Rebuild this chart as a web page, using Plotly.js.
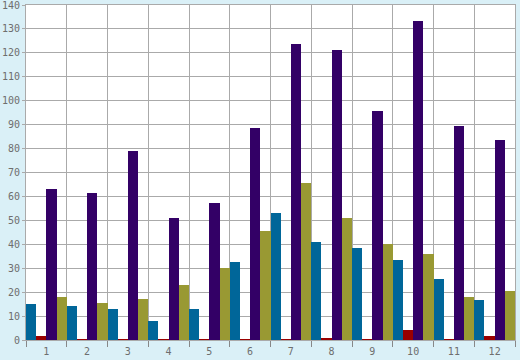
<!DOCTYPE html>
<html>
<head>
<meta charset="utf-8">
<script src="https://cdn.plot.ly/plotly-3.0.1.min.js"></script>
<style>html,body{margin:0;padding:0;background:#daf0f7;}#chart{width:520px;height:360px;}</style>
</head>
<body>
<div id="chart"></div>
<script>
const categories = ["1","2","3","4","5","6","7","8","9","10","11","12"];
const seriesBlue   = [15, 14.2, 13, 8, 13, 32.6, 53, 40.8, 38.4, 33.4, 25.5, 16.7];
const seriesRed    = [1.7, 0.4, 0.4, 0.4, 0.4, 0.4, 0.4, 0.8, 0.4, 4.2, 0.4, 1.7];
const seriesPurple = [63.3, 61.4, 78.8, 50.8, 57.1, 88.8, 123.8, 121.3, 95.8, 133.3, 89.6, 83.8];
const seriesOlive  = [18, 15.5, 17, 23, 30, 45.4, 65.8, 50.8, 40, 36, 18, 20.5];
const yTicks = [0,10,20,30,40,50,60,70,80,90,100,110,120,130,140];

const colors = ["#006699", "#990000", "#330066", "#999933"];
const all = [seriesBlue, seriesRed, seriesPurple, seriesOlive];
const data = all.map((s, i) => ({
  type: "bar", x: categories, y: s, marker: {color: colors[i], line: {width: 0}},
  hoverinfo: "none", showlegend: false
}));

const tickFont = {family: "DejaVu Sans Mono", size: 10, color: "#6e6e6e"};
const layout = {
  width: 520, height: 360,
  margin: {l: 26, r: 5, t: 5, b: 20, pad: 0},
  paper_bgcolor: "#daf0f7", plot_bgcolor: "#ffffff",
  barmode: "group", bargap: 0, bargroupgap: 0,
  showlegend: false,
  xaxis: {
    type: "category", tickson: "boundaries", showgrid: true, gridcolor: "#aaaaaa", gridwidth: 1,
    ticks: "outside", ticklen: 6, tickcolor: "#888888", tickwidth: 1, ticklabelstandoff: 2,
    tickfont: tickFont, showline: true, linecolor: "#aaaaaa", linewidth: 1, mirror: true,
    zeroline: false, fixedrange: true
  },
  yaxis: {
    range: [0, 140.02], tickvals: yTicks, ticktext: yTicks.map(String),
    ticklabeloverflow: "allow",
    showgrid: true, gridcolor: "#aaaaaa", gridwidth: 1,
    ticks: "outside", ticklen: 3, tickcolor: "#aaaaaa", tickwidth: 1,
    tickfont: tickFont, showline: true, linecolor: "#aaaaaa", linewidth: 1, mirror: true,
    zeroline: false, fixedrange: true
  }
};
Plotly.newPlot("chart", data, layout, {staticPlot: true, displayModeBar: false});
</script>
</body>
</html>
